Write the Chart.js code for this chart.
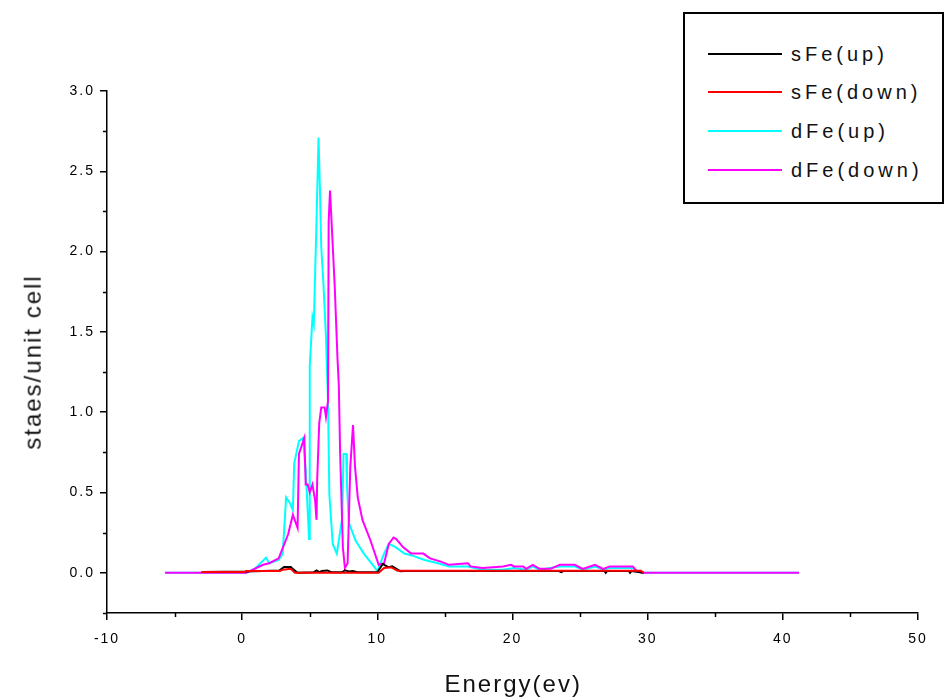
<!DOCTYPE html>
<html>
<head>
<meta charset="utf-8">
<script src="https://cdn.jsdelivr.net/npm/chart.js@4.4.1/dist/chart.umd.min.js"></script>
<style>
  body { margin: 0; background: #fff; }
  #wrap { position: relative; width: 946px; height: 700px; font-family: "Liberation Sans", Arial, sans-serif; }
  #dos-chart { position: absolute; left: 0; top: 0; }
  .legend { position: absolute; left: 683px; top: 12px; width: 261px; height: 192px; border: 2px solid #000; box-sizing: border-box; background: #fff; }
  .legend-row { position: absolute; left: 0; height: 24px; }
  .legend-line { position: absolute; left: 23px; top: 11px; width: 74px; height: 2px; }
  .legend-text { position: absolute; left: 106px; top: 0; font-size: 20px; line-height: 24px; letter-spacing: 4px; color: #111; white-space: nowrap; }
  .axis-title { position: absolute; font-size: 24px; letter-spacing: 2px; color: #111; white-space: nowrap; line-height: 28px; }
</style>
</head>
<body>
<div id="wrap">
  <canvas id="dos-chart" width="946" height="700"></canvas>
  <div class="legend" id="legend"></div>
  <div class="axis-title" id="x-title">Energy(ev)</div>
  <div class="axis-title" id="y-title">staes/unit cell</div>
</div>
<script>
// energy grid (eV) and states/unit cell
const sUpE = [-3.0, 0.3, 2.75, 3.1, 3.6, 3.8, 4.1, 5.3, 5.5, 5.7, 5.9, 6.3, 6.6, 7.4, 7.6, 7.9, 8.2, 8.5, 10.0, 10.4, 10.8, 11.1, 11.5, 11.7, 12.0, 23.4, 23.6, 23.8, 26.8, 26.9, 27.0, 28.6, 28.7, 28.8, 29.7];
const sUpV = [0.006, 0.008, 0.015, 0.037, 0.037, 0.02, 0, 0.004, 0.015, 0.004, 0.012, 0.015, 0.004, 0.004, 0.016, 0.008, 0.012, 0.004, 0.004, 0.055, 0.035, 0.04, 0.02, 0.01, 0.012, 0.012, 0.004, 0.012, 0.012, 0, 0.012, 0.012, 0, 0.012, 0];

const sDownE = [-3.0, 0.2, 0.3, 2.8, 3.0, 3.6, 3.9, 10.1, 10.5, 11.0, 11.5, 29.5, 29.7];
const sDownV = [0.006, 0.006, 0.012, 0.012, 0.02, 0.025, 0, 0, 0.03, 0.035, 0.013, 0.013, 0];

const dUpE = [-5.7, 0.0, 0.3, 1.0, 1.77, 2.0, 2.7, 3.0, 3.25, 3.5, 3.75, 3.85, 4.2, 4.5, 4.7, 4.95, 5.0, 5.2, 5.3, 5.5, 5.65, 5.75, 5.85, 6.0, 6.2, 6.35, 6.45, 6.7, 7.0, 7.4, 7.5, 7.7, 7.75, 7.9, 8.4, 9.0, 9.75, 10.0, 10.5, 10.85, 11.35, 12.0, 12.5, 13.5, 14.5, 15.3, 16.7, 17.8, 19.3, 20.1, 21.0, 21.5, 22.0, 23.5, 24.6, 25.2, 26.1, 26.7, 27.2, 28.9, 29.3, 29.7, 41.2];
const dUpV = [0, 0, 0, 0.03, 0.095, 0.06, 0.08, 0.12, 0.47, 0.44, 0.39, 0.68, 0.82, 0.84, 0.64, 0.21, 1.29, 1.59, 1.55, 2.19, 2.71, 2.40, 2.03, 1.82, 1.47, 1.07, 0.49, 0.18, 0.12, 0.34, 0.74, 0.74, 0.55, 0.31, 0.20, 0.12, 0.04, 0.01, 0.12, 0.18, 0.16, 0.12, 0.11, 0.08, 0.06, 0.04, 0.04, 0.02, 0.02, 0.03, 0.02, 0.04, 0.02, 0.04, 0.04, 0.02, 0.04, 0.02, 0.03, 0.03, 0.01, 0, 0];

const dDownE = [-5.7, 0.0, 0.3, 1.55, 2.0, 2.7, 3.4, 3.75, 4.1, 4.2, 4.6, 4.7, 4.85, 5.0, 5.2, 5.4, 5.5, 5.55, 5.7, 5.85, 6.1, 6.2, 6.35, 6.4, 6.5, 6.6, 6.85, 7.05, 7.15, 7.25, 7.45, 7.6, 7.8, 8.0, 8.2, 8.35, 8.55, 8.9, 9.5, 10.1, 10.5, 10.85, 11.2, 11.4, 11.9, 12.5, 13.4, 13.9, 14.7, 15.3, 16.7, 16.9, 17.8, 19.3, 19.9, 20.1, 20.8, 21.0, 21.5, 22.0, 22.8, 23.5, 24.6, 25.2, 26.1, 26.7, 27.2, 28.9, 29.2, 29.6, 41.2];
const dDownV = [0, 0, 0, 0.05, 0.06, 0.09, 0.24, 0.36, 0.28, 0.74, 0.84, 0.55, 0.55, 0.50, 0.55, 0.45, 0.33, 0.58, 0.93, 1.03, 1.03, 0.97, 1.07, 2.19, 2.38, 2.21, 1.78, 1.34, 1.17, 0.74, 0.16, 0.03, 0.06, 0.66, 0.92, 0.66, 0.47, 0.33, 0.20, 0.05, 0.06, 0.18, 0.22, 0.21, 0.16, 0.12, 0.12, 0.09, 0.07, 0.05, 0.06, 0.04, 0.03, 0.04, 0.05, 0.04, 0.04, 0.025, 0.05, 0.025, 0.025, 0.05, 0.05, 0.025, 0.05, 0.025, 0.04, 0.04, 0.01, 0, 0];

const seriesNames = ["sFe(up)", "sFe(down)", "dFe(up)", "dFe(down)"];
const seriesColors = ["#000000", "#ff0000", "#00ffff", "#ff00ff"];

const xTicks = [-10, 0, 10, 20, 30, 40, 50];
const xMinorTicks = [-5, 5, 15, 25, 35, 45];
const yTicks = [0, 0.5, 1.0, 1.5, 2.0, 2.5, 3.0];
const yMinorTicks = [-0.25, 0.25, 0.75, 1.25, 1.75, 2.25, 2.75];

function toPoints(xs, ys) {
  return xs.map((x, i) => ({ x, y: ys[i] }));
}

const seriesData = [toPoints(sUpE, sUpV), toPoints(sDownE, sDownV), toPoints(dUpE, dUpV), toPoints(dDownE, dDownV)];
// red over black over magenta over cyan
const drawOrder = [2, 1, 4, 3];

const minorTicks = {
  id: "minorTicks",
  beforeDraw(chart) {
    chart.ctx.letterSpacing = "2px";
  },
  afterDraw(chart) {
    const { ctx, chartArea, scales } = chart;
    ctx.save();
    ctx.strokeStyle = "#000";
    ctx.lineWidth = 1.5;
    ctx.beginPath();
    xMinorTicks.forEach((v) => {
      const px = Math.round(scales.x.getPixelForValue(v)) + 0.5;
      ctx.moveTo(px, chartArea.bottom);
      ctx.lineTo(px, chartArea.bottom + 4);
    });
    yMinorTicks.forEach((v) => {
      const py = Math.round(scales.y.getPixelForValue(v)) + 0.5;
      ctx.moveTo(chartArea.left, py);
      ctx.lineTo(chartArea.left - 4, py);
    });
    ctx.stroke();
    ctx.restore();
  }
};

const tickFont = { family: "'Liberation Sans', Arial, sans-serif", size: 14 };

new Chart(document.getElementById("dos-chart"), {
  type: "line",
  data: {
    datasets: seriesNames.map((name, i) => ({
      label: name,
      data: seriesData[i],
      borderColor: seriesColors[i],
      backgroundColor: seriesColors[i],
      borderWidth: 2,
      pointRadius: 0,
      tension: 0,
      fill: false,
      order: drawOrder[i]
    }))
  },
  options: {
    responsive: false,
    animation: false,
    layout: { padding: { left: 0, top: 91, right: 28, bottom: 0 } },
    plugins: { legend: { display: false }, tooltip: { enabled: false } },
    scales: {
      x: {
        type: "linear",
        min: -10,
        max: 50,
        afterBuildTicks: (scale) => { scale.ticks = xTicks.map((v) => ({ value: v })); },
        afterFit: (scale) => { scale.height = 87; },
        ticks: { color: "#000", font: tickFont, padding: 11, maxRotation: 0, callback: (v) => String(v) },
        grid: { drawOnChartArea: false, drawTicks: true, tickLength: 7, color: "#000", lineWidth: 1.5 },
        border: { display: true, color: "#000", width: 1.5 }
      },
      y: {
        type: "linear",
        min: -0.25,
        max: 3.0,
        afterBuildTicks: (scale) => { scale.ticks = yTicks.map((v) => ({ value: v })); },
        afterFit: (scale) => { scale.width = 107; },
        ticks: { color: "#000", font: tickFont, padding: 5, callback: (v) => Number(v).toFixed(1) },
        grid: { drawOnChartArea: false, drawTicks: true, tickLength: 7, color: "#000", lineWidth: 1.5 },
        border: { display: true, color: "#000", width: 1.5 }
      }
    }
  },
  plugins: [minorTicks]
});

// legend box
const legend = document.getElementById("legend");
const rowTops = [28, 66, 105, 144];
seriesNames.forEach((name, i) => {
  const row = document.createElement("div");
  row.className = "legend-row";
  row.style.top = rowTops[i] + "px";
  const line = document.createElement("div");
  line.className = "legend-line";
  line.style.background = seriesColors[i];
  const text = document.createElement("div");
  text.className = "legend-text";
  text.textContent = name;
  row.appendChild(line);
  row.appendChild(text);
  legend.appendChild(row);
});

// axis titles
const xTitle = document.getElementById("x-title");
xTitle.style.left = (513 - xTitle.offsetWidth / 2) + "px";
xTitle.style.top = (684 - xTitle.offsetHeight / 2) + "px";
const yTitle = document.getElementById("y-title");
yTitle.style.left = (32 - yTitle.offsetWidth / 2) + "px";
yTitle.style.top = (362 - yTitle.offsetHeight / 2) + "px";
yTitle.style.transform = "rotate(-90deg)";
</script>
</body>
</html>
